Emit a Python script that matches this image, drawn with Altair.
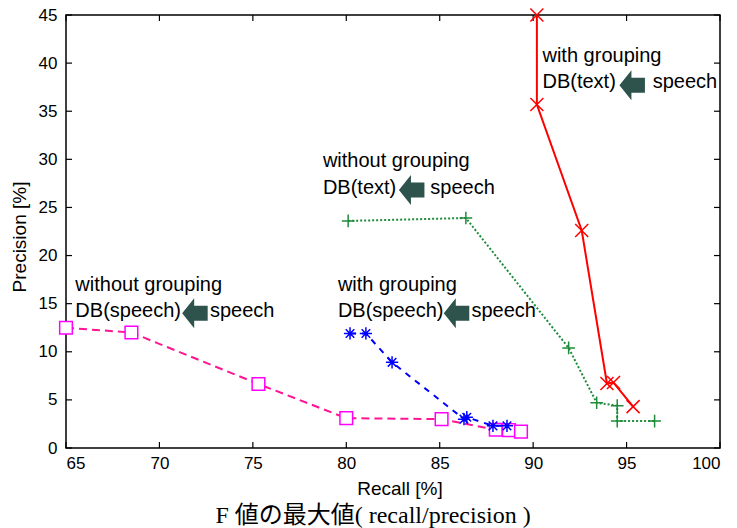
import altair as alt
import pandas as pd

# ---- data ----
red_x = [90.2, 90.2, 92.6, 93.95, 94.3, 95.35]
red_y = [45.0, 35.7, 22.6, 6.7, 6.8, 4.3]

green_x = [80.1, 86.4, 91.9, 93.4, 94.5, 94.5, 96.5]
green_y = [23.6, 23.9, 10.4, 4.7, 4.4, 2.8, 2.8]

blue_x = [80.2, 81.05, 82.45, 86.3, 86.45, 87.85, 88.6]
blue_y = [11.9, 11.9, 8.9, 3.0, 3.2, 2.3, 2.3]

mag_x = [65.0, 68.5, 75.3, 80.0, 85.1, 88.0, 88.7, 89.35]
mag_y = [12.5, 12.0, 6.65, 3.1, 3.0, 1.9, 1.85, 1.7]

x_ticks = [65, 70, 75, 80, 85, 90, 95, 100]
y_ticks = [0, 5, 10, 15, 20, 25, 30, 35, 40, 45]

ann_x = [90.5, 90.5, 78.75, 78.75, 79.55, 79.55, 65.5, 65.5, 96.4, 84.5, 86.7, 72.7]
ann_y = [40.75, 38.0, 29.8, 27.0, 16.9, 14.25, 16.9, 14.25, 38.0, 27.0, 14.25, 14.25]
ann_text = ["with grouping", "DB(text)", "without grouping", "DB(text)",
            "with grouping", "DB(speech)", "without grouping", "DB(speech)",
            "speech", "speech", "speech", "speech"]

arrow_x = [95.3, 83.5, 85.9, 71.9]
arrow_y = [37.7, 26.8, 14.0, 14.0]

x_title = ["Recall [%]"]
y_title = ["Precision [%]"]
caption = "F 値の最大値( recall/precision )"

W, H = 654, 433
FONT = "Liberation Sans, Arial, Helvetica"

xs = alt.Scale(domain=[65, 100], nice=False, zero=False)
ys = alt.Scale(domain=[0, 45], nice=False, zero=False)

X_AXIS = alt.Axis(
    values=x_ticks, format="d", title=None, grid=False, domain=False, ticks=False,
    labelFont=FONT, labelFontSize=17, labelColor="black", labelPadding=7)
Y_AXIS = alt.Axis(
    values=y_ticks, format="d", title=None, grid=False, domain=False, ticks=False,
    labelFont=FONT, labelFontSize=17, labelColor="black", labelPadding=9)

X_SHAPE = "M -1 -1 L 1 1 M -1 1 L 1 -1"
PLUS_SHAPE = "M -1 0 L 1 0 M 0 -1 L 0 1"
STAR_SHAPE = "M -1 0 L 1 0 M 0 -1 L 0 1 M -0.7 -0.7 L 0.7 0.7 M -0.7 0.7 L 0.7 -0.7"
ARROW_SHAPE = "M -0.85 0 L -0.05 -1 L -0.05 -0.5 L 0.85 -0.5 L 0.85 0.5 L -0.05 0.5 L -0.05 1 Z"


def X(field="recall"):
    return alt.X(f"{field}:Q", scale=xs, axis=X_AXIS)


def Y(field="precision"):
    return alt.Y(f"{field}:Q", scale=ys, axis=Y_AXIS)


def series(xv, yv, line_color, dash, shape, size, marker_color, square=False):
    df = pd.DataFrame({"recall": xv, "precision": yv, "order": list(range(len(xv)))})
    base = alt.Chart(df).encode(x=X(), y=Y())
    line_kw = dict(color=line_color, strokeWidth=2)
    if dash:
        line_kw["strokeDash"] = dash
    line = base.mark_line(**line_kw).encode(order="order:Q")
    if square:
        pts = base.mark_point(shape="square", size=size, fill="white", stroke=marker_color,
                              strokeWidth=1.5, opacity=1, fillOpacity=1, filled=True)
    else:
        pts = base.mark_point(shape=shape, size=size, color=marker_color, filled=False,
                              strokeWidth=1.5, opacity=1)
    return [line, pts]


# inward ticks on all four sides
xt = pd.DataFrame({"recall": x_ticks})
yt = pd.DataFrame({"precision": y_ticks})
tick_x_b = alt.Chart(xt).mark_rule(color="black", strokeWidth=1.2).encode(
    x=X(), y=alt.value(H), y2=alt.value(H - 6))
tick_x_t = alt.Chart(xt).mark_rule(color="black", strokeWidth=1.2).encode(
    x=X(), y=alt.value(0), y2=alt.value(6))
tick_y_l = alt.Chart(yt).mark_rule(color="black", strokeWidth=1.2).encode(
    y=Y(), x=alt.value(0), x2=alt.value(6))
tick_y_r = alt.Chart(yt).mark_rule(color="black", strokeWidth=1.2).encode(
    y=Y(), x=alt.value(W), x2=alt.value(W - 6))

layers = [tick_x_b, tick_x_t, tick_y_l, tick_y_r]
layers += series(mag_x, mag_y, "#FF1493", [8, 5], None, 160, "#FF00FF", square=True)
layers += series(blue_x, blue_y, "#0000FF", [6, 6], STAR_SHAPE, 150, "#0000FF")
layers += series(green_x, green_y, "#1E8C3A", [2, 2], PLUS_SHAPE, 160, "#1E8C3A")
layers += series(red_x, red_y, "#FF0000", None, X_SHAPE, 170, "#FF0000")

ann_df = pd.DataFrame({"recall": ann_x, "precision": ann_y, "label": ann_text})
ann = alt.Chart(ann_df).mark_text(
    align="left", baseline="middle", font=FONT, fontSize=20, color="black"
).encode(x=X(), y=Y(), text="label:N")

arr_df = pd.DataFrame({"recall": arrow_x, "precision": arrow_y})
arrows = alt.Chart(arr_df).mark_point(
    shape=ARROW_SHAPE, size=900, filled=True, color="#2E524C", opacity=1, strokeWidth=0
).encode(x=X(), y=Y())

# axis titles
xtitle = alt.Chart(pd.DataFrame({"label": x_title})).mark_text(
    align="center", baseline="middle", font=FONT, fontSize=19, color="black"
).encode(text="label:N", x=alt.value(334), y=alt.value(H + 41))
ytitle = alt.Chart(pd.DataFrame({"label": y_title})).mark_text(
    align="center", baseline="middle", font=FONT, fontSize=19, color="black", angle=270
).encode(text="label:N", x=alt.value(-46), y=alt.value(222))

layers += [ann, arrows, xtitle, ytitle]

chart = alt.layer(*layers).properties(
    width=W, height=H,
    title=alt.TitleParams(caption, orient="bottom", font="Liberation Serif, Noto Sans CJK JP",
                          fontSize=24, fontWeight="normal", color="black", offset=5, dx=-20),
    autosize=alt.AutoSizeParams(type="none"),
    padding={"left": 66, "top": 15, "right": 17, "bottom": 80},
    background="white",
).configure_view(stroke="black", strokeWidth=1.5)

chart.save("out.html", embed_options={"renderer": "svg", "actions": False})
